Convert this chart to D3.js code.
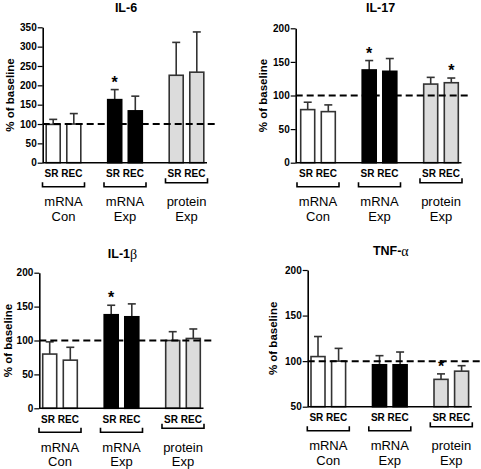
<!DOCTYPE html>
<html>
<head>
<meta charset="utf-8">
<script src="https://cdn.jsdelivr.net/npm/d3@7/dist/d3.min.js"></script>
<style>
  html, body { margin: 0; padding: 0; background: #fff; }
  svg { display: block; }
  text { font-family: "Liberation Sans", Arial, sans-serif; }
</style>
</head>
<body>
<svg id="chart" width="481" height="469"></svg>
<script>
// ---------- data ----------
const groups = ["mRNA Con", "mRNA Exp", "protein Exp"];
const groupLine1 = ["mRNA", "mRNA", "protein"];
const groupLine2 = ["Con", "Exp", "Exp"];
const conditions = ["SR", "REC"];
const groupFills = ["#ffffff", "#000000", "#dcdcdc"];

const il6Mean = [99, 100, 163, 134, 226, 234];
const il6Sem  = [13, 27, 26, 38, 85, 104];
const il6Sig  = [0, 0, 1, 0, 0, 0];
const il6Ticks = [0, 50, 100, 150, 200, 250, 300, 350];

const il17Mean = [79, 76, 138, 136, 117, 119];
const il17Sem  = [11, 10, 14, 19, 10, 7];
const il17Sig  = [0, 0, 1, 0, 0, 1];
const il17Ticks = [0, 50, 100, 150, 200];

const il1bMean = [80, 71, 138, 135, 100, 103];
const il1bSem  = [18, 19, 14, 19, 13, 14];
const il1bSig  = [0, 0, 1, 0, 0, 0];
const il1bTicks = [0, 50, 100, 150, 200];

const tnfMean = [105, 100, 96, 96, 80, 89];
const tnfSem  = [22, 14, 10, 14, 6, 6];
const tnfSig  = [0, 0, 0, 0, 1, 0];
const tnfTicks = [50, 100, 150, 200];

const baselineValue = 100;
const yLabel = "% of baseline";

// ---------- layout ----------
const panels = [
  { title: "IL-6", greek: "", mean: il6Mean, sem: il6Sem, sig: il6Sig, ticks: il6Ticks,
    domain: [0, 350], axisX: 42.7, y0: 162.7, yTop: 27.3, firstCenter: 63.5,
    titleY: 8, labelX: 10 },
  { title: "IL-17", greek: "", mean: il17Mean, sem: il17Sem, sig: il17Sig, ticks: il17Ticks,
    domain: [0, 200], axisX: 295.7, y0: 162.7, yTop: 28.3, firstCenter: 318,
    titleY: 8, labelX: 263 },
  { title: "IL-1", greek: "β", mean: il1bMean, sem: il1bSem, sig: il1bSig, ticks: il1bTicks,
    domain: [0, 200], axisX: 39.3, y0: 408.3, yTop: 272.7, firstCenter: 60,
    titleY: 253.5, labelX: 7.5 },
  { title: "TNF-", greek: "α", mean: tnfMean, sem: tnfSem, sig: tnfSig, ticks: tnfTicks,
    domain: [50, 200], axisX: 307.7, y0: 406.7, yTop: 270, firstCenter: 328.3,
    titleY: 250.5, labelX: 273 }
];

const svg = d3.select("#chart");
const step = 61.5;
const ink = "#333";

panels.forEach(p => {
  const g = svg.append("g");
  const y = d3.scaleLinear().domain(p.domain).range([p.y0, p.yTop]);
  const x = d3.scaleBand().domain(groups)
    .range([p.firstCenter - step / 2, p.firstCenter - step / 2 + step * groups.length])
    .paddingInner(0).paddingOuter(0);
  const xi = d3.scaleBand().domain(conditions).range([-17.3, 17.3]).paddingInner(0.32).paddingOuter(0);
  const center = gname => x(gname) + x.bandwidth() / 2;
  const lastCenter = center(groups[groups.length - 1]);

  const rows = [];
  groups.forEach((gn, gi) => conditions.forEach((c, ci) => {
    const k = gi * conditions.length + ci;
    rows.push({ g: gn, gi, c, mean: p.mean[k], sem: p.sem[k], sig: p.sig[k] });
  }));

  // error bars (upper only)
  rows.forEach(r => {
    const cx = center(r.g) + xi(r.c) + xi.bandwidth() / 2;
    g.append("line").attr("x1", cx).attr("x2", cx)
      .attr("y1", y(r.mean)).attr("y2", y(r.mean + r.sem))
      .attr("stroke", ink).attr("stroke-width", 1.6);
    g.append("line").attr("x1", cx - 4).attr("x2", cx + 4)
      .attr("y1", y(r.mean + r.sem)).attr("y2", y(r.mean + r.sem))
      .attr("stroke", ink).attr("stroke-width", 1.6);
  });

  // bars
  g.selectAll("rect.bar").data(rows).join("rect").attr("class", "bar")
    .attr("x", r => center(r.g) + xi(r.c))
    .attr("width", xi.bandwidth())
    .attr("y", r => y(r.mean))
    .attr("height", r => y(p.domain[0]) - y(r.mean))
    .attr("fill", r => groupFills[r.gi])
    .attr("stroke", r => r.gi === 1 ? "#000" : ink)
    .attr("stroke-width", 1.6);

  // asterisks
  rows.filter(r => r.sig).forEach(r => {
    const cx = center(r.g) + xi(r.c) + xi.bandwidth() / 2;
    g.append("text").attr("x", cx).attr("y", y(r.mean + r.sem) - 11 + 9.2)
      .attr("text-anchor", "middle").attr("font-size", 16).attr("font-weight", "bold")
      .text("*");
  });

  // baseline dashed line
  g.append("line")
    .attr("x1", p.axisX).attr("x2", lastCenter + 30)
    .attr("y1", y(baselineValue)).attr("y2", y(baselineValue))
    .attr("stroke", "#000").attr("stroke-width", 2).attr("stroke-dasharray", "7,4");

  // x axis line
  g.append("line")
    .attr("x1", p.axisX).attr("x2", lastCenter + 20.5)
    .attr("y1", p.y0).attr("y2", p.y0)
    .attr("stroke", "#000").attr("stroke-width", 1.6);

  // y axis
  const ax = g.append("g").attr("transform", `translate(${p.axisX},0)`)
    .call(d3.axisLeft(y).tickValues(p.ticks).tickSize(5).tickPadding(1).tickSizeOuter(0));
  ax.select(".domain").attr("stroke", "#000").attr("stroke-width", 1.6);
  ax.selectAll(".tick line").attr("stroke", "#000").attr("stroke-width", 1.2);
  ax.selectAll(".tick text").attr("font-size", 10).attr("font-weight", "bold")
    .attr("fill", "#000").style("font-family", '"Liberation Sans", Arial, sans-serif');

  // y label
  g.append("text")
    .attr("transform", `translate(${p.labelX},${(p.y0 + p.yTop) / 2}) rotate(-90)`)
    .attr("text-anchor", "middle").attr("dominant-baseline", "central")
    .attr("font-size", 11.5).attr("font-weight", "bold").text(yLabel);

  // title
  const t = g.append("text").attr("x", center(groups[1]) + 1).attr("y", p.titleY)
    .attr("text-anchor", "middle").attr("dominant-baseline", "central")
    .attr("font-size", 12.5).attr("font-weight", "bold");
  t.append("tspan").text(p.title);
  if (p.greek) t.append("tspan").attr("font-weight", "normal")
    .style("font-family", '"Liberation Serif", "Times New Roman", serif').attr("font-size", 14).text(p.greek);

  // group labels
  groups.forEach((gn, gi) => {
    const cx = center(gn);
    g.append("text").attr("x", cx).attr("y", p.y0 + 11)
      .attr("text-anchor", "middle").attr("dominant-baseline", "central")
      .attr("font-size", 10).attr("font-weight", "bold").text(conditions.join(" "));
    const lift = gi === 2 ? 4 : 0;
    const by = p.y0 + 24 - lift, bt = p.y0 + 19.5 - lift;
    g.append("path")
      .attr("d", `M${cx - 21},${bt}V${by}H${cx + 21}V${bt}`)
      .attr("fill", "none").attr("stroke", "#000").attr("stroke-width", 1.6);
    g.append("text").attr("x", cx).attr("y", p.y0 + 39)
      .attr("text-anchor", "middle").attr("dominant-baseline", "central")
      .attr("font-size", 13).text(groupLine1[gi]);
    g.append("text").attr("x", cx).attr("y", p.y0 + 53.5)
      .attr("text-anchor", "middle").attr("dominant-baseline", "central")
      .attr("font-size", 13).text(groupLine2[gi]);
  });
});
</script>
</body>
</html>
